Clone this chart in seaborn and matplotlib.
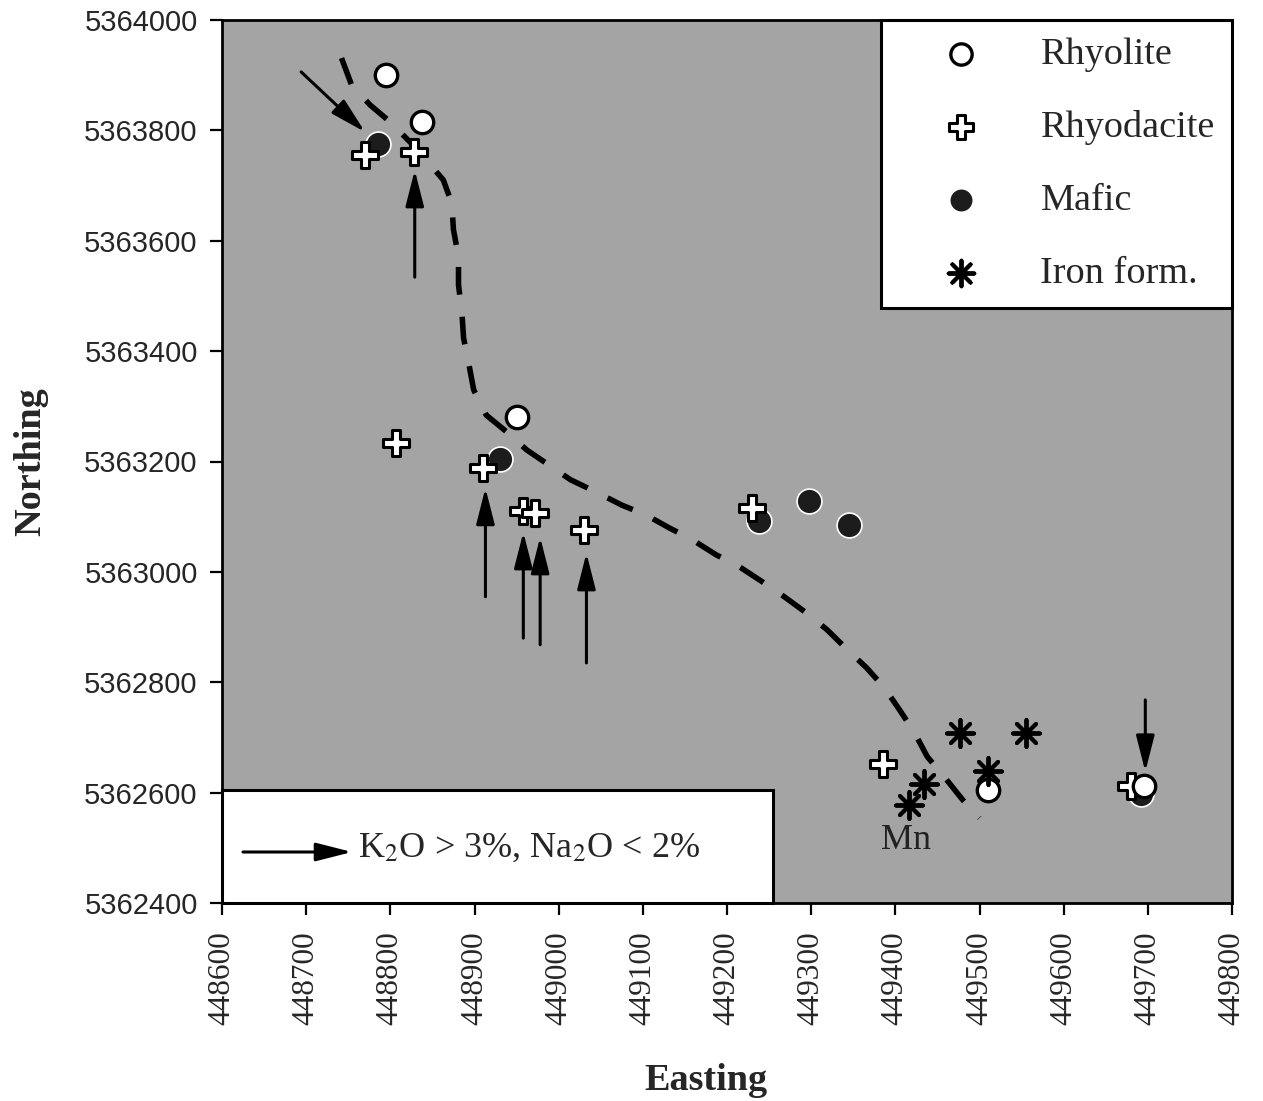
import matplotlib
matplotlib.use("Agg")
import matplotlib.pyplot as plt
import matplotlib.patches as mpatches
import seaborn as sns
import pandas as pd

# ---------------- data ----------------
rhyolite_e = [448795, 448838, 448950, 449510, 449695]
rhyolite_n = [5363900, 5363815, 5363280, 5362605, 5362612]

rhyodacite_e = [448770, 448828, 448807, 448910, 448958, 448972, 449030, 449230, 449385, 449680]
rhyodacite_n = [5363755, 5363760, 5363233, 5363188, 5363110, 5363106, 5363076, 5363115, 5362652, 5362612]

mafic_e = [448785, 448930, 449238, 449297, 449345, 449692]
mafic_n = [5363775, 5363205, 5363092, 5363128, 5363085, 5362598]

iron_e = [449477, 449555, 449434, 449416, 449510]
iron_n = [5362708, 5362708, 5362615, 5362578, 5362640]

# dashed boundary
curve_e = [448742, 448754, 448776, 448800, 448833, 448863, 448873, 448875, 448881, 448881,
           448885, 448887, 448893, 448899, 448914, 448938, 448962, 448988, 449014, 449044,
           449075, 449104, 449131, 449159, 449187, 449215, 449242, 449268, 449294, 449319,
           449343, 449366, 449387, 449405, 449423, 449438, 449459, 449480, 449500]
curve_n = [5363931, 5363882, 5363846, 5363815, 5363764, 5363710, 5363668, 5363620, 5363571, 5363520,
           5363471, 5363424, 5363379, 5363330, 5363284, 5363254, 5363221, 5363194, 5363167, 5363145,
           5363121, 5363103, 5363080, 5363058, 5363031, 5363009, 5362982, 5362955, 5362926, 5362895,
           5362859, 5362826, 5362790, 5362750, 5362708, 5362665, 5362627, 5362587, 5362554]

# K2O>3%, Na2O<2% arrows: tail -> tip
arrow_tail_e = [448694, 448829, 448913, 448958, 448978, 449033, 449697]
arrow_tail_n = [5363906, 5363534, 5362955, 5362880, 5362868, 5362835, 5362768]
arrow_tip_e = [448770, 448829, 448913, 448958, 448978, 449033, 449697]
arrow_tip_n = [5363797, 5363728, 5363152, 5363072, 5363063, 5363034, 5362638]

mn_label = ("Mn", 449413, 5362514)

x_ticks = [448600, 448700, 448800, 448900, 449000, 449100, 449200,
           449300, 449400, 449500, 449600, 449700, 449800]
y_ticks = [5362400, 5362600, 5362800, 5363000, 5363200, 5363400,
           5363600, 5363800, 5364000]

legend_labels = ["Rhyolite", "Rhyodacite", "Mafic", "Iron form."]
box_text = r"K$_2$O > 3%, Na$_2$O < 2%"

# ---------------- style ----------------
sns.set_theme(style="white")
plt.rcParams["font.family"] = ["Liberation Serif", "DejaVu Serif"]
plt.rcParams["mathtext.fontset"] = "stix"

fig = plt.figure(figsize=(12.63, 11.01), dpi=100)
ax = fig.add_axes([222 / 1263, 198 / 1101, 1010 / 1263, 883 / 1101])
ax.set_facecolor("#a4a4a4")

ARROW = dict(arrowstyle="-|>,head_length=1.1,head_width=0.28",
             color="black", lw=2.2, mutation_scale=20, shrinkA=0, shrinkB=0)

# dashed boundary
sns.lineplot(x=curve_e, y=curve_n, sort=False, estimator=None, ax=ax,
             color="black", linewidth=4.0, zorder=2)
ax.lines[-1].set_dashes((5.0, 4.0))
ax.lines[-1].set_dash_capstyle("butt")

df_m = pd.DataFrame({"E": mafic_e, "N": mafic_n})
df_rd = pd.DataFrame({"E": rhyodacite_e, "N": rhyodacite_n})
df_r = pd.DataFrame({"E": rhyolite_e, "N": rhyolite_n})
df_i = pd.DataFrame({"E": iron_e, "N": iron_n})

sns.scatterplot(data=df_m, x="E", y="N", ax=ax, marker="o", s=320,
                color="#1c1c1c", edgecolor="white", linewidth=1.2, zorder=3)
sns.scatterplot(data=df_rd, x="E", y="N", ax=ax, marker="P", s=330,
                color="white", edgecolor="black", linewidth=2.2, zorder=4)
sns.scatterplot(data=df_r, x="E", y="N", ax=ax, marker="o", s=260,
                color="white", edgecolor="black", linewidth=2.4, zorder=5)
sns.scatterplot(data=df_i, x="E", y="N", ax=ax, marker=(8, 2, 0), s=380,
                color="black", linewidth=2.8, zorder=5)

# arrows
for te, tn, he, hn in zip(arrow_tail_e, arrow_tail_n, arrow_tip_e, arrow_tip_n):
    ax.annotate("", xy=(he, hn), xytext=(te, tn), arrowprops=ARROW, zorder=6)

ax.text(mn_label[1], mn_label[2], mn_label[0], ha="center", va="center",
        fontsize=26, color="#222222", zorder=6)

# axes
ax.set_xlim(x_ticks[0], x_ticks[-1])
ax.set_ylim(y_ticks[0], y_ticks[-1])
ax.set_xticks(x_ticks)
ax.set_xticklabels([str(v) for v in x_ticks], rotation=90, fontsize=22.5,
                   family="Liberation Serif")
ax.set_yticks(y_ticks)
ax.set_yticklabels([str(v) for v in y_ticks], fontsize=21,
                   family="Liberation Sans")
ax.tick_params(axis="both", direction="out", length=8.5, width=1.6,
               color="black", bottom=True, left=True)
ax.tick_params(axis="x", pad=12)
ax.tick_params(axis="y", pad=9)
for sp in ax.spines.values():
    sp.set_color("black")
    sp.set_linewidth(2.0)

ax.set_xlabel("Easting", fontsize=27.5, fontweight="bold")
ax.set_ylabel("Northing", fontsize=27.5, fontweight="bold")
ax.xaxis.set_label_coords(0.479, -0.181)
ax.yaxis.set_label_coords(-0.172, 0.5)

# legend (top right)
handles = ax.collections[:]
order = [2, 1, 0, 3]  # rhyolite, rhyodacite, mafic, iron
leg = ax.legend([handles[i] for i in order], legend_labels, loc="upper right",
                fontsize=27.5, frameon=True, fancybox=False, borderaxespad=0,
                borderpad=0.45, handlelength=3.3, handletextpad=0.42,
                labelspacing=1.0, markerscale=0.95, framealpha=1)
leg.get_frame().set_edgecolor("black")
leg.get_frame().set_linewidth(2.2)
leg.set_zorder(10)

# bottom-left key box
rect = mpatches.Rectangle((0, 0), 551 / 1010, 113 / 883, transform=ax.transAxes,
                          facecolor="white", edgecolor="black", linewidth=2.2,
                          zorder=8, clip_on=False)
ax.add_patch(rect)
ax.annotate("", xy=(130 / 1010, 51 / 883), xytext=(21 / 1010, 51 / 883),
            xycoords="axes fraction", textcoords="axes fraction",
            arrowprops=ARROW, zorder=9)
ax.text(136 / 1010, 55 / 883, box_text, transform=ax.transAxes, ha="left",
        va="center", fontsize=26, zorder=9)

fig.savefig("out.png", dpi=100)
